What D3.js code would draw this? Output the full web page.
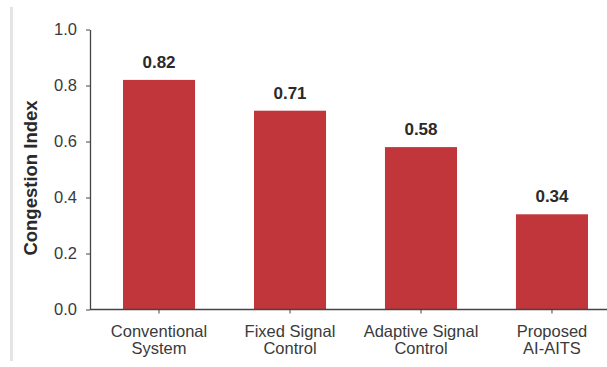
<!DOCTYPE html>
<html>
<head>
<meta charset="utf-8">
<script src="https://cdn.jsdelivr.net/npm/d3@7/dist/d3.min.js"></script>
<style>
  html, body { margin: 0; padding: 0; background: #fff; }
  svg { display: block; }
</style>
</head>
<body>
<script>
// Congestion index by traffic control approach
const categories = ["Conventional System", "Fixed Signal Control", "Adaptive Signal Control", "Proposed AI-AITS"];
const categoryLines = [["Conventional", "System"], ["Fixed Signal", "Control"], ["Adaptive Signal", "Control"], ["Proposed", "AI-AITS"]];
const congestion = [0.82, 0.71, 0.58, 0.34];
const yTicks = [0.0, 0.2, 0.4, 0.6, 0.8, 1.0];

const W = 607, H = 367;
const svg = d3.select("body").append("svg").attr("width", W).attr("height", H);

// faint page edge on the left
svg.append("rect").attr("x", 10).attr("y", 7).attr("width", 3).attr("height", 354).attr("fill", "#e4e4e4");

const x = d3.scaleBand().domain(categories).range([123, 588]).paddingInner(0.45).paddingOuter(0);
const y = d3.scaleLinear().domain([0, 1]).range([309.5, 29.5]);

const font = "'Liberation Sans', Arial, sans-serif";

// bars
svg.selectAll("rect.bar").data(categories).join("rect")
  .attr("class", "bar")
  .attr("x", d => x(d))
  .attr("width", x.bandwidth())
  .attr("y", (d, i) => y(congestion[i]))
  .attr("height", (d, i) => y(0) - y(congestion[i]))
  .attr("fill", "#c0363a");

// value labels
svg.selectAll("text.val").data(categories).join("text")
  .attr("class", "val")
  .attr("x", d => x(d) + x.bandwidth() / 2)
  .attr("y", (d, i) => y(congestion[i]) - 12)
  .attr("text-anchor", "middle")
  .attr("font-family", font)
  .attr("font-weight", "bold")
  .attr("font-size", 17)
  .attr("fill", "#2a2a2a")
  .text((d, i) => congestion[i].toFixed(2));

// y axis
const yAxis = svg.append("g").attr("transform", "translate(90,0)")
  .call(d3.axisLeft(y).tickValues(yTicks).tickFormat(d3.format(".1f")).tickSize(4).tickSizeOuter(0).tickPadding(9));
yAxis.select(".domain").attr("stroke", "#444").attr("stroke-width", 1.3);
yAxis.selectAll(".tick line").attr("stroke", "#444");
yAxis.selectAll(".tick text").attr("font-family", font).attr("font-size", 16.5).attr("fill", "#3a3a3a");

// x axis
const xAxis = svg.append("g").attr("transform", "translate(0,309.5)")
  .call(d3.axisBottom(x).tickSize(4).tickSizeOuter(0).tickFormat(""));
xAxis.select(".domain").remove();
xAxis.selectAll(".tick line").attr("stroke", "#444");
svg.append("line").attr("x1", 90).attr("x2", W).attr("y1", 309.5).attr("y2", 309.5)
  .attr("stroke", "#444").attr("stroke-width", 1.3);

// category labels (two lines each)
const lab = svg.selectAll("text.cat").data(categories).join("text")
  .attr("class", "cat")
  .attr("text-anchor", "middle")
  .attr("font-family", font)
  .attr("font-size", 16.5)
  .attr("fill", "#3a3a3a");
lab.selectAll("tspan").data((d, i) => categoryLines[i].map(t => ({ t, c: d }))).join("tspan")
  .attr("x", d => x(d.c) + x.bandwidth() / 2)
  .attr("y", (d, j) => 337 + j * 17)
  .text(d => d.t);

// y axis title
svg.append("text")
  .attr("transform", "translate(37,178) rotate(-90)")
  .attr("text-anchor", "middle")
  .attr("font-family", font)
  .attr("font-weight", "bold")
  .attr("font-size", 18.5)
  .attr("fill", "#2a2a2a")
  .text("Congestion Index");
</script>
</body>
</html>
